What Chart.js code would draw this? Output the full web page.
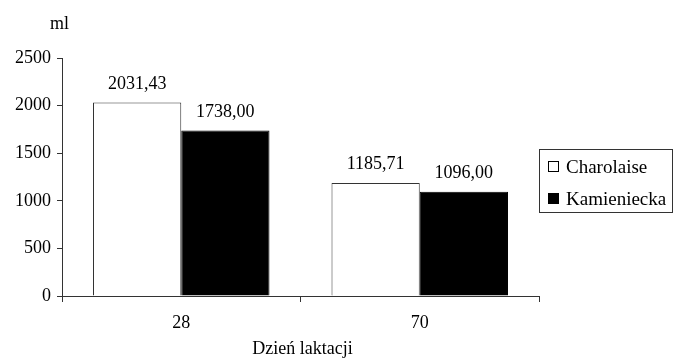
<!DOCTYPE html>
<html>
<head>
<meta charset="utf-8">
<script src="https://cdn.jsdelivr.net/npm/chart.js@4/dist/chart.umd.min.js"></script>
<style>
  html, body { margin: 0; padding: 0; background: #fff; }
  #wrap { width: 674px; height: 361px; }
</style>
</head>
<body>
<div id="wrap"><canvas id="c" width="674" height="361"></canvas></div>
<script>
// Milk yield (ml) by day of lactation for two breeds
const categories = ['28', '70'];
const charolaise = [2031.43, 1185.71];
const kamieniecka = [1738.00, 1096.00];
const seriesNames = ['Charolaise', 'Kamieniecka'];
const yTicks = [0, 500, 1000, 1500, 2000, 2500];

const FONT = '"Liberation Serif", "Times New Roman", serif';
const AXIS = '#333333';

const fmt = v => v.toFixed(2).replace('.', ',');

// Value labels above bars, unit label, axis title and boxed legend
const decorations = {
  id: 'decorations',
  afterDatasetsDraw(chart) {
    const ctx = chart.ctx;
    ctx.save();
    ctx.fillStyle = '#000';
    ctx.font = '18px ' + FONT;
    ctx.textAlign = 'center';
    ctx.textBaseline = 'alphabetic';
    chart.data.datasets.forEach((ds, i) => {
      chart.getDatasetMeta(i).data.forEach((bar, j) => {
        ctx.fillText(fmt(ds.data[j]), bar.x, bar.y - 14);
      });
    });

    // unit above the value axis
    ctx.textAlign = 'left';
    ctx.fillText('ml', 50, 29);

    // category axis title
    ctx.textAlign = 'center';
    ctx.textBaseline = 'middle';
    const area = chart.chartArea;
    ctx.fillText('Dzień laktacji', (area.left + area.right) / 2 + 2, 349);

    // legend
    ctx.strokeStyle = AXIS;
    ctx.lineWidth = 1;
    ctx.strokeRect(539.5, 149.5, 133, 63);
    ctx.font = '19px ' + FONT;
    ctx.textAlign = 'left';
    const rows = [167, 199];
    chart.data.datasets.forEach((ds, i) => {
      const y = rows[i];
      ctx.fillStyle = ds.backgroundColor;
      ctx.fillRect(548, y - 6, 11, 11);
      ctx.strokeStyle = '#000';
      ctx.strokeRect(548.5, y - 5.5, 10, 10);
      ctx.fillStyle = '#000';
      ctx.fillText(ds.label, 566, y + 1);
    });
    ctx.restore();
  }
};

new Chart(document.getElementById('c'), {
  type: 'bar',
  data: {
    labels: categories,
    datasets: [
      { label: seriesNames[0], data: charolaise, backgroundColor: '#ffffff', borderColor: AXIS, borderWidth: 1 },
      { label: seriesNames[1], data: kamieniecka, backgroundColor: '#000000', borderColor: '#000000', borderWidth: 1 }
    ]
  },
  options: {
    responsive: false,
    animation: false,
    devicePixelRatio: 1,
    categoryPercentage: 0.74,
    barPercentage: 1.0,
    layout: { padding: { top: 58, right: 135, left: 0, bottom: 0 } },
    plugins: { legend: { display: false }, tooltip: { enabled: false } },
    scales: {
      x: {
        grid: { display: true, drawOnChartArea: false, drawTicks: true, tickLength: 6, offset: true, color: AXIS },
        border: { display: true, color: AXIS, width: 1 },
        ticks: { color: '#000', font: { family: FONT, size: 18 }, padding: 10 },
        afterFit(scale) { scale.height = 65; }
      },
      y: {
        min: 0,
        max: 2500,
        afterBuildTicks(scale) { scale.ticks = yTicks.map(v => ({ value: v })); },
        grid: { display: true, drawOnChartArea: false, drawTicks: true, tickLength: 5, color: AXIS },
        border: { display: true, color: AXIS, width: 1 },
        ticks: { color: '#000', font: { family: FONT, size: 18 }, padding: 6, callback: v => String(v) },
        afterFit(scale) { scale.width = 62; }
      }
    }
  },
  plugins: [decorations]
});
</script>
</body>
</html>
